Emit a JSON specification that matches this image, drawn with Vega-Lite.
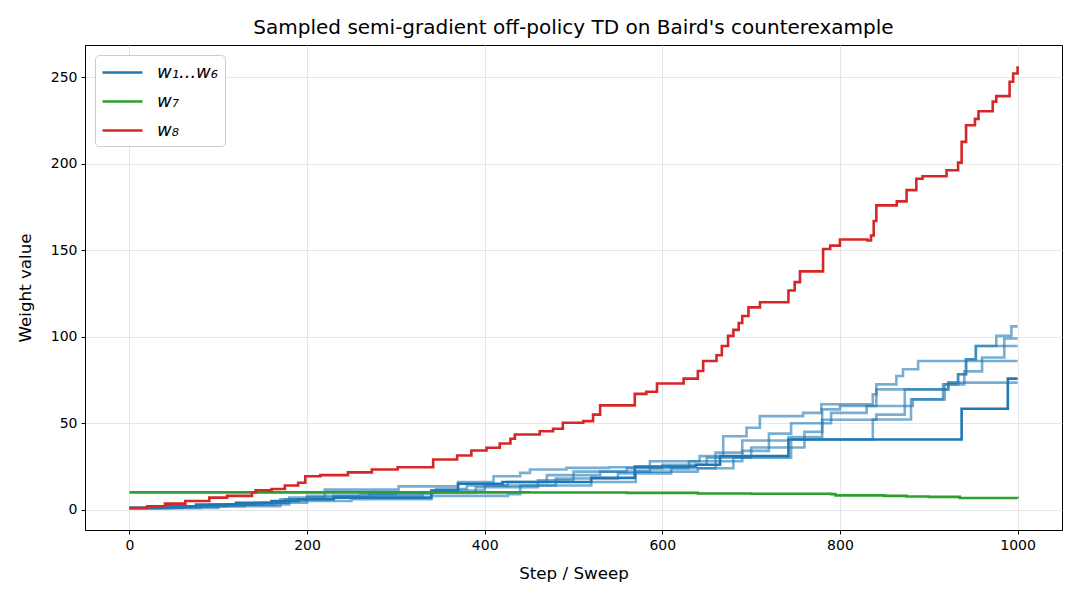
{
  "$schema": "https://vega.github.io/schema/vega-lite/v6.json",
  "autosize": "none",
  "width": 977,
  "height": 485,
  "padding": {"left": 85, "top": 45, "right": 18, "bottom": 70},
  "title": {"text": "Sampled semi-gradient off-policy TD on Baird's counterexample", "font": "DejaVu Sans", "fontSize": 20, "fontWeight": "normal", "color": "black", "offset": 7},
  "config": {
    "view": {"stroke": "black", "strokeWidth": 1},
    "axis": {"labelFont": "DejaVu Sans", "titleFont": "DejaVu Sans", "labelFontSize": 14, "titleFontSize": 16.7, "titleFontWeight": "normal", "labelColor": "black", "titleColor": "black", "tickColor": "black", "domainColor": "black", "tickSize": 4, "gridColor": "#e6e6e6", "gridWidth": 1}
  },
  "datasets": {
    "pts": [
      {"series": "w₁...w₆", "line": "w1", "x": 0, "y": 1}, {"series": "w₁...w₆", "line": "w1", "x": 35, "y": 2}, {"series": "w₁...w₆", "line": "w1", "x": 75, "y": 3}, {"series": "w₁...w₆", "line": "w1", "x": 120, "y": 4}, {"series": "w₁...w₆", "line": "w1", "x": 160, "y": 5}, {"series": "w₁...w₆", "line": "w1", "x": 190, "y": 6}, {"series": "w₁...w₆", "line": "w1", "x": 230, "y": 7}, {"series": "w₁...w₆", "line": "w1", "x": 340, "y": 11}, {"series": "w₁...w₆", "line": "w1", "x": 370, "y": 15}, {"series": "w₁...w₆", "line": "w1", "x": 420, "y": 16}, {"series": "w₁...w₆", "line": "w1", "x": 520, "y": 18.4}, {"series": "w₁...w₆", "line": "w1", "x": 569, "y": 25}, {"series": "w₁...w₆", "line": "w1", "x": 638, "y": 26}, {"series": "w₁...w₆", "line": "w1", "x": 665, "y": 31}, {"series": "w₁...w₆", "line": "w1", "x": 742, "y": 40.6}, {"series": "w₁...w₆", "line": "w1", "x": 937, "y": 58.4}, {"series": "w₁...w₆", "line": "w1", "x": 989, "y": 75.8}, {"series": "w₁...w₆", "line": "w1", "x": 1000, "y": 75.8},

      {"series": "w₁...w₆", "line": "w2", "x": 0, "y": 1}, {"series": "w₁...w₆", "line": "w2", "x": 60, "y": 2}, {"series": "w₁...w₆", "line": "w2", "x": 100, "y": 3}, {"series": "w₁...w₆", "line": "w2", "x": 140, "y": 4}, {"series": "w₁...w₆", "line": "w2", "x": 175, "y": 6}, {"series": "w₁...w₆", "line": "w2", "x": 200, "y": 8}, {"series": "w₁...w₆", "line": "w2", "x": 260, "y": 9}, {"series": "w₁...w₆", "line": "w2", "x": 300, "y": 10}, {"series": "w₁...w₆", "line": "w2", "x": 345, "y": 12}, {"series": "w₁...w₆", "line": "w2", "x": 380, "y": 14}, {"series": "w₁...w₆", "line": "w2", "x": 426, "y": 16}, {"series": "w₁...w₆", "line": "w2", "x": 470, "y": 20}, {"series": "w₁...w₆", "line": "w2", "x": 530, "y": 22}, {"series": "w₁...w₆", "line": "w2", "x": 586, "y": 24}, {"series": "w₁...w₆", "line": "w2", "x": 630, "y": 28}, {"series": "w₁...w₆", "line": "w2", "x": 660, "y": 33}, {"series": "w₁...w₆", "line": "w2", "x": 690, "y": 40}, {"series": "w₁...w₆", "line": "w2", "x": 742, "y": 42}, {"series": "w₁...w₆", "line": "w2", "x": 780, "y": 52}, {"series": "w₁...w₆", "line": "w2", "x": 841, "y": 55}, {"series": "w₁...w₆", "line": "w2", "x": 873, "y": 69.6}, {"series": "w₁...w₆", "line": "w2", "x": 922, "y": 73.5}, {"series": "w₁...w₆", "line": "w2", "x": 933, "y": 78.3}, {"series": "w₁...w₆", "line": "w2", "x": 942, "y": 87}, {"series": "w₁...w₆", "line": "w2", "x": 953, "y": 94.7}, {"series": "w₁...w₆", "line": "w2", "x": 976, "y": 100.5}, {"series": "w₁...w₆", "line": "w2", "x": 993, "y": 106}, {"series": "w₁...w₆", "line": "w2", "x": 1000, "y": 106},

      {"series": "w₁...w₆", "line": "w3", "x": 0, "y": 1}, {"series": "w₁...w₆", "line": "w3", "x": 50, "y": 2}, {"series": "w₁...w₆", "line": "w3", "x": 90, "y": 3}, {"series": "w₁...w₆", "line": "w3", "x": 150, "y": 4}, {"series": "w₁...w₆", "line": "w3", "x": 180, "y": 7}, {"series": "w₁...w₆", "line": "w3", "x": 220, "y": 11.6}, {"series": "w₁...w₆", "line": "w3", "x": 303, "y": 13.5}, {"series": "w₁...w₆", "line": "w3", "x": 370, "y": 16}, {"series": "w₁...w₆", "line": "w3", "x": 410, "y": 19.3}, {"series": "w₁...w₆", "line": "w3", "x": 440, "y": 21.3}, {"series": "w₁...w₆", "line": "w3", "x": 451, "y": 23.2}, {"series": "w₁...w₆", "line": "w3", "x": 492, "y": 24.2}, {"series": "w₁...w₆", "line": "w3", "x": 540, "y": 24.5}, {"series": "w₁...w₆", "line": "w3", "x": 586, "y": 28}, {"series": "w₁...w₆", "line": "w3", "x": 642, "y": 31}, {"series": "w₁...w₆", "line": "w3", "x": 668.6, "y": 42.5}, {"series": "w₁...w₆", "line": "w3", "x": 694.8, "y": 47.4}, {"series": "w₁...w₆", "line": "w3", "x": 709.8, "y": 54.1}, {"series": "w₁...w₆", "line": "w3", "x": 758.5, "y": 56}, {"series": "w₁...w₆", "line": "w3", "x": 779, "y": 61}, {"series": "w₁...w₆", "line": "w3", "x": 837, "y": 66.7}, {"series": "w₁...w₆", "line": "w3", "x": 841, "y": 72.5}, {"series": "w₁...w₆", "line": "w3", "x": 863.5, "y": 77.3}, {"series": "w₁...w₆", "line": "w3", "x": 871, "y": 81.2}, {"series": "w₁...w₆", "line": "w3", "x": 888, "y": 86}, {"series": "w₁...w₆", "line": "w3", "x": 1000, "y": 86},

      {"series": "w₁...w₆", "line": "w4", "x": 0, "y": 1}, {"series": "w₁...w₆", "line": "w4", "x": 100, "y": 2}, {"series": "w₁...w₆", "line": "w4", "x": 170, "y": 3}, {"series": "w₁...w₆", "line": "w4", "x": 180, "y": 5}, {"series": "w₁...w₆", "line": "w4", "x": 250, "y": 6}, {"series": "w₁...w₆", "line": "w4", "x": 340, "y": 8}, {"series": "w₁...w₆", "line": "w4", "x": 426, "y": 9}, {"series": "w₁...w₆", "line": "w4", "x": 440, "y": 14}, {"series": "w₁...w₆", "line": "w4", "x": 520, "y": 16}, {"series": "w₁...w₆", "line": "w4", "x": 570, "y": 22}, {"series": "w₁...w₆", "line": "w4", "x": 640, "y": 24}, {"series": "w₁...w₆", "line": "w4", "x": 680, "y": 30}, {"series": "w₁...w₆", "line": "w4", "x": 745, "y": 40.6}, {"series": "w₁...w₆", "line": "w4", "x": 837, "y": 52.2}, {"series": "w₁...w₆", "line": "w4", "x": 880, "y": 63.8}, {"series": "w₁...w₆", "line": "w4", "x": 916, "y": 72.5}, {"series": "w₁...w₆", "line": "w4", "x": 933, "y": 78.3}, {"series": "w₁...w₆", "line": "w4", "x": 942, "y": 87}, {"series": "w₁...w₆", "line": "w4", "x": 953, "y": 94.7}, {"series": "w₁...w₆", "line": "w4", "x": 1000, "y": 94.7},

      {"series": "w₁...w₆", "line": "w5", "x": 0, "y": 1}, {"series": "w₁...w₆", "line": "w5", "x": 80, "y": 2}, {"series": "w₁...w₆", "line": "w5", "x": 130, "y": 3}, {"series": "w₁...w₆", "line": "w5", "x": 170, "y": 6}, {"series": "w₁...w₆", "line": "w5", "x": 230, "y": 8}, {"series": "w₁...w₆", "line": "w5", "x": 330, "y": 10}, {"series": "w₁...w₆", "line": "w5", "x": 390, "y": 13}, {"series": "w₁...w₆", "line": "w5", "x": 460, "y": 17}, {"series": "w₁...w₆", "line": "w5", "x": 500, "y": 22}, {"series": "w₁...w₆", "line": "w5", "x": 560, "y": 24}, {"series": "w₁...w₆", "line": "w5", "x": 600, "y": 26}, {"series": "w₁...w₆", "line": "w5", "x": 650, "y": 30}, {"series": "w₁...w₆", "line": "w5", "x": 700, "y": 36}, {"series": "w₁...w₆", "line": "w5", "x": 760, "y": 45}, {"series": "w₁...w₆", "line": "w5", "x": 780, "y": 58}, {"series": "w₁...w₆", "line": "w5", "x": 800, "y": 60}, {"series": "w₁...w₆", "line": "w5", "x": 841, "y": 69.6}, {"series": "w₁...w₆", "line": "w5", "x": 922, "y": 73.5}, {"series": "w₁...w₆", "line": "w5", "x": 1000, "y": 73.5},

      {"series": "w₁...w₆", "line": "w6", "x": 0, "y": 1}, {"series": "w₁...w₆", "line": "w6", "x": 45, "y": 2}, {"series": "w₁...w₆", "line": "w6", "x": 110, "y": 3}, {"series": "w₁...w₆", "line": "w6", "x": 165, "y": 4}, {"series": "w₁...w₆", "line": "w6", "x": 200, "y": 7}, {"series": "w₁...w₆", "line": "w6", "x": 270, "y": 9}, {"series": "w₁...w₆", "line": "w6", "x": 340, "y": 11}, {"series": "w₁...w₆", "line": "w6", "x": 400, "y": 14}, {"series": "w₁...w₆", "line": "w6", "x": 480, "y": 18}, {"series": "w₁...w₆", "line": "w6", "x": 550, "y": 21}, {"series": "w₁...w₆", "line": "w6", "x": 610, "y": 24}, {"series": "w₁...w₆", "line": "w6", "x": 660, "y": 28}, {"series": "w₁...w₆", "line": "w6", "x": 690, "y": 34}, {"series": "w₁...w₆", "line": "w6", "x": 720, "y": 44}, {"series": "w₁...w₆", "line": "w6", "x": 745, "y": 50}, {"series": "w₁...w₆", "line": "w6", "x": 790, "y": 56}, {"series": "w₁...w₆", "line": "w6", "x": 830, "y": 60}, {"series": "w₁...w₆", "line": "w6", "x": 882, "y": 63.8}, {"series": "w₁...w₆", "line": "w6", "x": 918, "y": 72.5}, {"series": "w₁...w₆", "line": "w6", "x": 940, "y": 80}, {"series": "w₁...w₆", "line": "w6", "x": 960, "y": 88}, {"series": "w₁...w₆", "line": "w6", "x": 985, "y": 99}, {"series": "w₁...w₆", "line": "w6", "x": 1000, "y": 99},

      {"series": "w₇", "line": "w7", "x": 0, "y": 10}, {"series": "w₇", "line": "w7", "x": 300, "y": 10}, {"series": "w₇", "line": "w7", "x": 450, "y": 9.9}, {"series": "w₇", "line": "w7", "x": 560, "y": 9.7}, {"series": "w₇", "line": "w7", "x": 640, "y": 9.4}, {"series": "w₇", "line": "w7", "x": 700, "y": 9.2}, {"series": "w₇", "line": "w7", "x": 790, "y": 9.0}, {"series": "w₇", "line": "w7", "x": 795, "y": 8.3}, {"series": "w₇", "line": "w7", "x": 850, "y": 8.0}, {"series": "w₇", "line": "w7", "x": 875, "y": 7.6}, {"series": "w₇", "line": "w7", "x": 900, "y": 7.4}, {"series": "w₇", "line": "w7", "x": 935, "y": 6.8}, {"series": "w₇", "line": "w7", "x": 1000, "y": 6.6},

      {"series": "w₈", "line": "w8", "x": 0, "y": 1}, {"series": "w₈", "line": "w8", "x": 20, "y": 2}, {"series": "w₈", "line": "w8", "x": 40, "y": 3.5}, {"series": "w₈", "line": "w8", "x": 63, "y": 5}, {"series": "w₈", "line": "w8", "x": 90, "y": 7}, {"series": "w₈", "line": "w8", "x": 110, "y": 8}, {"series": "w₈", "line": "w8", "x": 138, "y": 10}, {"series": "w₈", "line": "w8", "x": 142, "y": 11.2}, {"series": "w₈", "line": "w8", "x": 160, "y": 12}, {"series": "w₈", "line": "w8", "x": 175, "y": 14}, {"series": "w₈", "line": "w8", "x": 190, "y": 15.6}, {"series": "w₈", "line": "w8", "x": 198, "y": 19.3}, {"series": "w₈", "line": "w8", "x": 215, "y": 20}, {"series": "w₈", "line": "w8", "x": 246, "y": 21.6}, {"series": "w₈", "line": "w8", "x": 273, "y": 23.2}, {"series": "w₈", "line": "w8", "x": 302, "y": 24.5}, {"series": "w₈", "line": "w8", "x": 342, "y": 29}, {"series": "w₈", "line": "w8", "x": 369, "y": 31.3}, {"series": "w₈", "line": "w8", "x": 385, "y": 34.2}, {"series": "w₈", "line": "w8", "x": 402, "y": 35.8}, {"series": "w₈", "line": "w8", "x": 417, "y": 38.3}, {"series": "w₈", "line": "w8", "x": 429, "y": 41}, {"series": "w₈", "line": "w8", "x": 434, "y": 43.5}, {"series": "w₈", "line": "w8", "x": 462, "y": 45.4}, {"series": "w₈", "line": "w8", "x": 477, "y": 46.8}, {"series": "w₈", "line": "w8", "x": 488, "y": 50.3}, {"series": "w₈", "line": "w8", "x": 511, "y": 51.2}, {"series": "w₈", "line": "w8", "x": 522, "y": 55}, {"series": "w₈", "line": "w8", "x": 530, "y": 60.3}, {"series": "w₈", "line": "w8", "x": 569, "y": 67}, {"series": "w₈", "line": "w8", "x": 582, "y": 68.2}, {"series": "w₈", "line": "w8", "x": 594, "y": 73}, {"series": "w₈", "line": "w8", "x": 624, "y": 75.8}, {"series": "w₈", "line": "w8", "x": 640, "y": 80.2}, {"series": "w₈", "line": "w8", "x": 646, "y": 86}, {"series": "w₈", "line": "w8", "x": 661, "y": 89.3}, {"series": "w₈", "line": "w8", "x": 667, "y": 94.7}, {"series": "w₈", "line": "w8", "x": 674, "y": 100.5}, {"series": "w₈", "line": "w8", "x": 680, "y": 104}, {"series": "w₈", "line": "w8", "x": 686, "y": 108}, {"series": "w₈", "line": "w8", "x": 690, "y": 112}, {"series": "w₈", "line": "w8", "x": 697, "y": 117}, {"series": "w₈", "line": "w8", "x": 710, "y": 120}, {"series": "w₈", "line": "w8", "x": 742, "y": 126.8}, {"series": "w₈", "line": "w8", "x": 749, "y": 131.6}, {"series": "w₈", "line": "w8", "x": 755, "y": 137.8}, {"series": "w₈", "line": "w8", "x": 781, "y": 150.8}, {"series": "w₈", "line": "w8", "x": 789, "y": 152.7}, {"series": "w₈", "line": "w8", "x": 800, "y": 156.3}, {"series": "w₈", "line": "w8", "x": 831, "y": 155.7}, {"series": "w₈", "line": "w8", "x": 835, "y": 158.6}, {"series": "w₈", "line": "w8", "x": 838, "y": 167}, {"series": "w₈", "line": "w8", "x": 841, "y": 176}, {"series": "w₈", "line": "w8", "x": 864, "y": 178.3}, {"series": "w₈", "line": "w8", "x": 875, "y": 184.8}, {"series": "w₈", "line": "w8", "x": 886, "y": 191.4}, {"series": "w₈", "line": "w8", "x": 893, "y": 192.8}, {"series": "w₈", "line": "w8", "x": 920, "y": 196.3}, {"series": "w₈", "line": "w8", "x": 933, "y": 200.7}, {"series": "w₈", "line": "w8", "x": 937, "y": 212.7}, {"series": "w₈", "line": "w8", "x": 942, "y": 222.3}, {"series": "w₈", "line": "w8", "x": 952, "y": 226}, {"series": "w₈", "line": "w8", "x": 956, "y": 230.4}, {"series": "w₈", "line": "w8", "x": 972, "y": 236}, {"series": "w₈", "line": "w8", "x": 976, "y": 239.2}, {"series": "w₈", "line": "w8", "x": 991, "y": 247.5}, {"series": "w₈", "line": "w8", "x": 995, "y": 252.3}, {"series": "w₈", "line": "w8", "x": 999, "y": 252.3}, {"series": "w₈", "line": "w8", "x": 1000, "y": 256.5}
    ]
  },
  "data": {"name": "pts"},
  "encoding": {
    "x": {"field": "x", "type": "quantitative", "scale": {"domain": [-50, 1050], "nice": false, "zero": false},
      "axis": {"values": [0, 200, 400, 600, 800, 1000], "format": "d", "title": "Step / Sweep", "titlePadding": 13, "labelPadding": 4}},
    "y": {"field": "y", "type": "quantitative", "scale": {"domain": [-11.75, 268.75], "nice": false, "zero": false},
      "axis": {"values": [0, 50, 100, 150, 200, 250], "format": "d", "title": "Weight value", "titlePadding": 16, "labelPadding": 4}},
    "color": {"field": "series", "type": "nominal", "sort": null,
      "scale": {"domain": ["w₁...w₆", "w₇", "w₈"], "range": ["#1f77b4", "#2ca02c", "#d62728"]},
      "legend": {"title": null, "orient": "none", "legendX": 10, "legendY": 10, "symbolType": "M-2,0H2", "symbolStrokeWidth": 2.6, "symbolSize": 400, "symbolOffset": 10, "labelFont": "DejaVu Sans", "labelFontSize": 18, "labelFontStyle": "italic", "labelColor": "black", "labelOffset": 23, "fillColor": "white", "strokeColor": "#cccccc", "cornerRadius": 4, "padding": 6, "rowPadding": 8}},
    "detail": {"field": "line", "type": "nominal"}
  },
  "layer": [
    {"transform": [{"filter": "datum.series === 'w₁...w₆'"}],
     "mark": {"type": "line", "interpolate": "step-after", "strokeWidth": 2.6},
     "encoding": {"opacity": {"condition": {"test": "datum.line === 'w1'", "value": 1}, "value": 0.6}}},
    {"transform": [{"filter": "datum.series === 'w₇'"}],
     "mark": {"type": "line", "interpolate": "step-after", "strokeWidth": 2.6}},
    {"transform": [{"filter": "datum.series === 'w₈'"}],
     "mark": {"type": "line", "interpolate": "step-after", "strokeWidth": 2.6}}
  ]
}
